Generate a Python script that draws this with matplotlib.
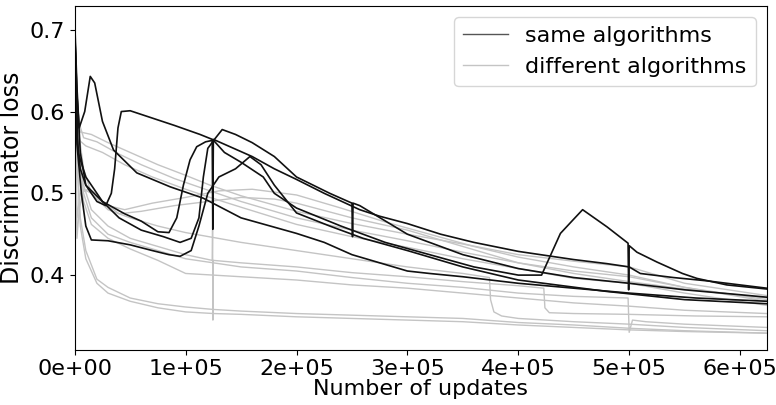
import matplotlib
matplotlib.use('Agg')
import matplotlib.pyplot as plt
from matplotlib.lines import Line2D

# discriminator loss curves, x in thousands of updates
# "same algorithms" runs (black)
same_a_x = [0, 2, 5, 10, 20, 28, 33, 36, 39, 42, 50, 70, 90, 113, 124, 124.5, 125, 140, 160, 180, 200,
            225, 257, 275, 300, 330, 360, 400, 420, 450, 480, 500, 510, 540, 570, 600, 624]
same_a_y = [0.71, 0.63, 0.55, 0.51, 0.49, 0.485, 0.50, 0.53, 0.58, 0.600, 0.601, 0.592, 0.583, 0.572,
            0.566, 0.456, 0.566, 0.557, 0.545, 0.530, 0.517, 0.500, 0.480, 0.472, 0.463, 0.450, 0.440,
            0.429, 0.425, 0.419, 0.414, 0.410, 0.402, 0.397, 0.393, 0.388, 0.384]

same_b_x = [0, 3, 10, 25, 40, 60, 80, 95, 105, 112, 116, 120, 126, 133, 145, 160, 180, 200, 230, 250,
            250.5, 251, 257, 300, 350, 400, 450, 500, 550, 600, 624]
same_b_y = [0.70, 0.55, 0.52, 0.49, 0.47, 0.455, 0.447, 0.44, 0.445, 0.47, 0.52, 0.555, 0.566, 0.578,
            0.572, 0.562, 0.545, 0.520, 0.500, 0.488, 0.447, 0.488, 0.485, 0.450, 0.425, 0.408, 0.397,
            0.390, 0.382, 0.376, 0.373]

same_c_x = [0, 2, 5, 10, 25, 45, 60, 75, 85, 92, 98, 104, 110, 118, 125, 135, 150, 170, 180, 200, 240,
            280, 320, 360, 400, 421, 438, 449, 458, 480, 499, 499.5, 500, 507, 525, 548, 561, 588, 624]
same_c_y = [0.70, 0.57, 0.53, 0.51, 0.49, 0.475, 0.466, 0.453, 0.452, 0.47, 0.51, 0.541, 0.557, 0.563,
            0.565, 0.55, 0.538, 0.52, 0.50, 0.482, 0.46, 0.44, 0.425, 0.41, 0.40, 0.400, 0.451, 0.467,
            0.480, 0.459, 0.439, 0.382, 0.436, 0.428, 0.416, 0.402, 0.396, 0.388, 0.383]

same_d_x = [0, 2, 6, 10, 15, 30, 50, 70, 85, 95, 105, 112, 120, 130, 145, 158, 168, 180, 200, 230, 260,
            300, 350, 400, 480, 550, 624]
same_d_y = [0.70, 0.56, 0.50, 0.46, 0.443, 0.442, 0.437, 0.43, 0.425, 0.423, 0.43, 0.46, 0.50, 0.52,
            0.53, 0.545, 0.535, 0.51, 0.476, 0.46, 0.445, 0.43, 0.41, 0.394, 0.38, 0.37, 0.365]

same_e_x = [0, 2, 4, 9, 14, 18, 25, 35, 56, 86, 116, 150, 200, 225, 250, 275, 300, 320, 350, 400, 450,
            500, 560, 624]
same_e_y = [0.70, 0.62, 0.58, 0.60, 0.643, 0.635, 0.588, 0.553, 0.525, 0.508, 0.494, 0.47, 0.451, 0.44,
            0.425, 0.415, 0.405, 0.402, 0.398, 0.390, 0.384, 0.378, 0.372, 0.368]

# "different algorithms" runs (light gray)
diff_a_x = [0, 2, 5, 15, 30, 50, 75, 100, 122, 150, 200, 250, 300, 350, 400, 450, 500, 550, 624]
diff_a_y = [0.70, 0.62, 0.575, 0.572, 0.562, 0.55, 0.535, 0.522, 0.51, 0.497, 0.478, 0.463, 0.45,
            0.438, 0.425, 0.417, 0.410, 0.390, 0.375]

diff_b_x = [0, 3, 8, 20, 40, 60, 90, 122, 150, 200, 250, 300, 350, 400, 450, 500, 550, 624]
diff_b_y = [0.70, 0.59, 0.568, 0.563, 0.548, 0.535, 0.518, 0.503, 0.49, 0.47, 0.455, 0.442, 0.428,
            0.415, 0.405, 0.398, 0.385, 0.368]

diff_c_x = [0, 4, 10, 25, 45, 70, 100, 122, 150, 200, 250, 300, 350, 400, 450, 500, 550, 624]
diff_c_y = [0.69, 0.565, 0.558, 0.55, 0.535, 0.52, 0.505, 0.495, 0.483, 0.462, 0.447, 0.434, 0.42,
            0.408, 0.396, 0.39, 0.378, 0.363]

diff_d_x = [0, 1, 2, 4, 8, 15, 30, 45, 70, 100, 130, 160, 200, 240, 280, 320, 360, 400, 450, 500, 550,
            624]
diff_d_y = [0.70, 0.55, 0.445, 0.48, 0.505, 0.50, 0.485, 0.48, 0.488, 0.495, 0.503, 0.505, 0.498,
            0.482, 0.465, 0.45, 0.435, 0.422, 0.41, 0.40, 0.385, 0.370]

diff_e_x = [0, 2, 5, 12, 25, 40, 60, 90, 120, 150, 180, 200, 250, 300, 350, 400, 450, 500, 550, 624]
diff_e_y = [0.66, 0.47, 0.50, 0.505, 0.49, 0.475, 0.478, 0.485, 0.49, 0.495, 0.493, 0.488, 0.47,
            0.455, 0.435, 0.415, 0.402, 0.392, 0.383, 0.372]

diff_f_x = [0, 3, 8, 15, 30, 50, 75, 100, 150, 200, 250, 300, 350, 374, 375, 378, 385, 400, 450, 500,
            550, 624]
diff_f_y = [0.70, 0.58, 0.53, 0.50, 0.48, 0.47, 0.46, 0.452, 0.44, 0.43, 0.42, 0.41, 0.402, 0.397,
            0.37, 0.355, 0.350, 0.347, 0.343, 0.340, 0.336, 0.332]

diff_g_x = [0, 3, 8, 15, 30, 50, 75, 100, 124, 124.3, 124.6, 125, 150, 200, 250, 300, 350, 400, 423,
            424, 428, 450, 500, 560, 624]
diff_g_y = [0.69, 0.57, 0.51, 0.48, 0.46, 0.445, 0.435, 0.425, 0.418, 0.455, 0.345, 0.418, 0.415,
            0.41, 0.403, 0.398, 0.392, 0.387, 0.384, 0.36, 0.354, 0.353, 0.352, 0.350, 0.349]

diff_h_x = [0, 3, 8, 15, 30, 50, 75, 100, 150, 200, 250, 300, 350, 400, 450, 499, 500, 503, 515, 550,
            624]
diff_h_y = [0.70, 0.56, 0.50, 0.47, 0.45, 0.44, 0.43, 0.42, 0.41, 0.405, 0.397, 0.39, 0.385, 0.378,
            0.374, 0.372, 0.330, 0.345, 0.343, 0.340, 0.336]

diff_i_x = [0, 3, 8, 15, 30, 50, 75, 100, 150, 200, 250, 300, 350, 400, 450, 500, 550, 624]
diff_i_y = [0.68, 0.55, 0.49, 0.462, 0.445, 0.432, 0.418, 0.402, 0.398, 0.394, 0.388, 0.384, 0.378,
            0.372, 0.366, 0.362, 0.357, 0.353]

diff_j_x = [0, 2, 5, 10, 20, 30, 50, 75, 100, 125, 150, 200, 250, 300, 350, 400, 450, 500, 550, 624]
diff_j_y = [0.70, 0.55, 0.47, 0.43, 0.395, 0.385, 0.372, 0.365, 0.361, 0.358, 0.356, 0.353, 0.351,
            0.349, 0.347, 0.342, 0.339, 0.335, 0.332, 0.329]

diff_k_x = [0, 2, 5, 10, 20, 30, 50, 75, 100, 125, 150, 200, 250, 300, 350, 400, 450, 500, 550, 624]
diff_k_y = [0.69, 0.54, 0.46, 0.42, 0.39, 0.378, 0.368, 0.36, 0.355, 0.353, 0.352, 0.349, 0.347,
            0.345, 0.343, 0.339, 0.336, 0.333, 0.331, 0.329]

same_runs = [(same_a_x, same_a_y), (same_b_x, same_b_y), (same_c_x, same_c_y),
             (same_d_x, same_d_y), (same_e_x, same_e_y)]
diff_runs = [(diff_a_x, diff_a_y), (diff_b_x, diff_b_y), (diff_c_x, diff_c_y),
             (diff_d_x, diff_d_y), (diff_e_x, diff_e_y), (diff_f_x, diff_f_y),
             (diff_g_x, diff_g_y), (diff_h_x, diff_h_y), (diff_i_x, diff_i_y),
             (diff_j_x, diff_j_y), (diff_k_x, diff_k_y)]

plt.rcParams['font.size'] = 16

fig, ax = plt.subplots(figsize=(7.76, 4.05), dpi=100)
fig.subplots_adjust(left=0.0963, right=0.988, top=0.985, bottom=0.137)

for xs, ys in diff_runs:
    ax.plot([v * 1000 for v in xs], ys, color='#c4c4c4', lw=1.0)
for xs, ys in same_runs:
    ax.plot([v * 1000 for v in xs], ys, color='#111111', lw=1.2)

ax.set_xlim(0, 624000)
ax.set_ylim(0.309, 0.729)
ax.set_yticks([0.4, 0.5, 0.6, 0.7])
ax.xaxis.set_major_formatter(plt.FuncFormatter(lambda v, p: '%.0e' % v))
ax.set_xlabel('Number of updates', labelpad=0)
ax.set_ylabel('Discriminator loss', fontsize=17)

handles = [Line2D([], [], color='#555555', lw=1.0), Line2D([], [], color='#c4c4c4', lw=1.0)]
ax.legend(handles, ['same algorithms', 'different algorithms'], loc='upper right')

fig.savefig('out.png')
